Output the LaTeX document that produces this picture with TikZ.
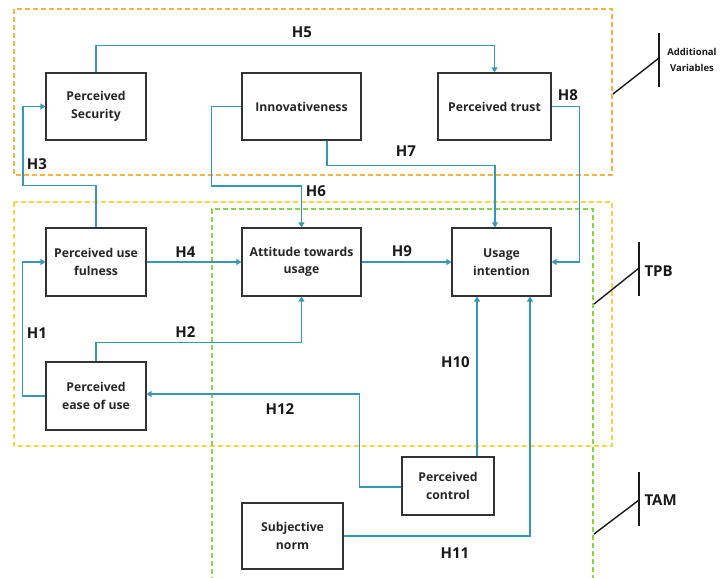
\documentclass[tikz,border=0pt]{standalone}
\usepackage{fontspec}
\setmainfont{Open Sans}
\usetikzlibrary{arrows.meta}
\definecolor{cblue}{HTML}{3796B6}
\definecolor{corange}{HTML}{F6B444}
\definecolor{cyellow}{HTML}{F5D647}
\definecolor{cgreen}{HTML}{8CD24E}
\begin{document}
\begin{tikzpicture}[x=1pt,y=-1pt,
  box/.style={draw=black!80, line width=1.2pt, fill=white, align=center,
    font=\fontsize{12.2}{17.5}\selectfont\bfseries, text=black!85, inner sep=0pt},
  conn/.style={draw=cblue, line width=1.6pt, -{Triangle[length=5pt,width=6pt]}},
  lab/.style={font=\fontsize{15}{18}\selectfont\bfseries, text=black!90},
  grp/.style={line width=1.1pt, dash pattern=on 5pt off 3pt},
  brk/.style={draw=black!90, line width=1.4pt},
  brktext/.style={font=\fontsize{15}{18}\selectfont\bfseries, anchor=west, text=black!90}]
\useasboundingbox (0,0) rectangle (720,578);
% group frames
\draw[grp, draw=corange] (14,9) rectangle (612,175);
\draw[grp, draw=cyellow] (14,202) rectangle (612,446);
\draw[grp, draw=cgreen] (593,580) -- (593,209) -- (212,209) -- (212,580);
% nodes
\node[box, minimum width=100pt, minimum height=67pt] (sec) at (96,106.5) {Perceived\\Security};
\node[box, minimum width=119pt, minimum height=67pt] (inn) at (301.5,106.5) {Innovativeness};
\node[box, minimum width=113pt, minimum height=67pt] (trust) at (494.5,106.5) {Perceived trust};
\node[box, minimum width=100pt, minimum height=68pt] (use) at (96,262) {Perceived use\\fulness};
\node[box, minimum width=119pt, minimum height=68pt] (att) at (301.5,262) {Attitude towards\\usage};
\node[box, minimum width=99pt, minimum height=68pt] (ui) at (501.5,262) {Usage\\intention};
\node[box, minimum width=100pt, minimum height=68pt] (ease) at (96,396) {Perceived\\ease of use};
\node[box, minimum width=92pt, minimum height=58pt] (ctrl) at (448,486) {Perceived\\control};
\node[box, minimum width=101pt, minimum height=66pt] (norm) at (292.5,536) {Subjective\\norm};
% connectors
\draw[conn] (sec.north) -- ++(0,-27) -| (trust.north);
\draw[conn] (use.north) -- ++(0,-42) -- ++(-73,0) |- (sec.west);
\draw[conn] (inn.west) -- ++(-30,0) -- ++(0,79.5) -| (att.north);
\draw[conn] ([xshift=25.5pt]inn.south) -- ++(0,25) -| ([xshift=-6.5pt]ui.north);
\draw[conn] (trust.east) -- ++(28,0) |- (ui.east);
\draw[conn] (use.east) -- (att.west);
\draw[conn] (att.east) -- (ui.west);
\draw[conn] (ease.north) -- ++(0,-19) -| (att.south);
\draw[conn] (ease.west) -- ++(-23,0) |- (use.west);
\draw[conn] ([yshift=-1pt]ctrl.west) -- ++(-42,0) |- ([yshift=2pt]ease.east);
\coordinate (h10) at ([xshift=29pt]ctrl.north);
\draw[conn] (h10) -- (h10 |- ui.south);
\draw[conn] (norm.east) -| ([xshift=28.5pt]ui.south);
% labels
\node[lab] (l5) at (302,32) {H5};
\node[lab] (l3) at (37,164) {H3};
\node[lab] (l6) at (316,191) {H6};
\node[lab] (l7) at (406,151) {H7};
\node[lab] (l8) at (568,95) {H8};
\node[lab] (l4) at (185.5,252) {H4};
\node[lab] (l9) at (402,251) {H9};
\node[lab] (l2) at (185.5,332) {H2};
\node[lab] (l1) at (37,333) {H1};
\node[lab] (l10) at (455.5,362) {H10};
\node[lab] (l12) at (280,409) {H12};
\node[lab] (l11) at (455,553) {H11};
% brackets
\draw[brk] (613,94) -- (659,58);
\draw[brk] (659,33) -- (659,87);
\node[font=\fontsize{9.5}{16}\selectfont\bfseries, align=center, text=black!90] (tav) at (692,60) {Additional\\Variables};
\draw[brk] (594,304) -- (639,268);
\draw[brk] (639,242) -- (639,296);
\node[brktext] (ttpb) at (641,271) {TPB};
\draw[brk] (594,534) -- (639,500);
\draw[brk] (639,472) -- (639,526);
\node[brktext] (ttam) at (641,500) {TAM};
\end{tikzpicture}
\end{document}
